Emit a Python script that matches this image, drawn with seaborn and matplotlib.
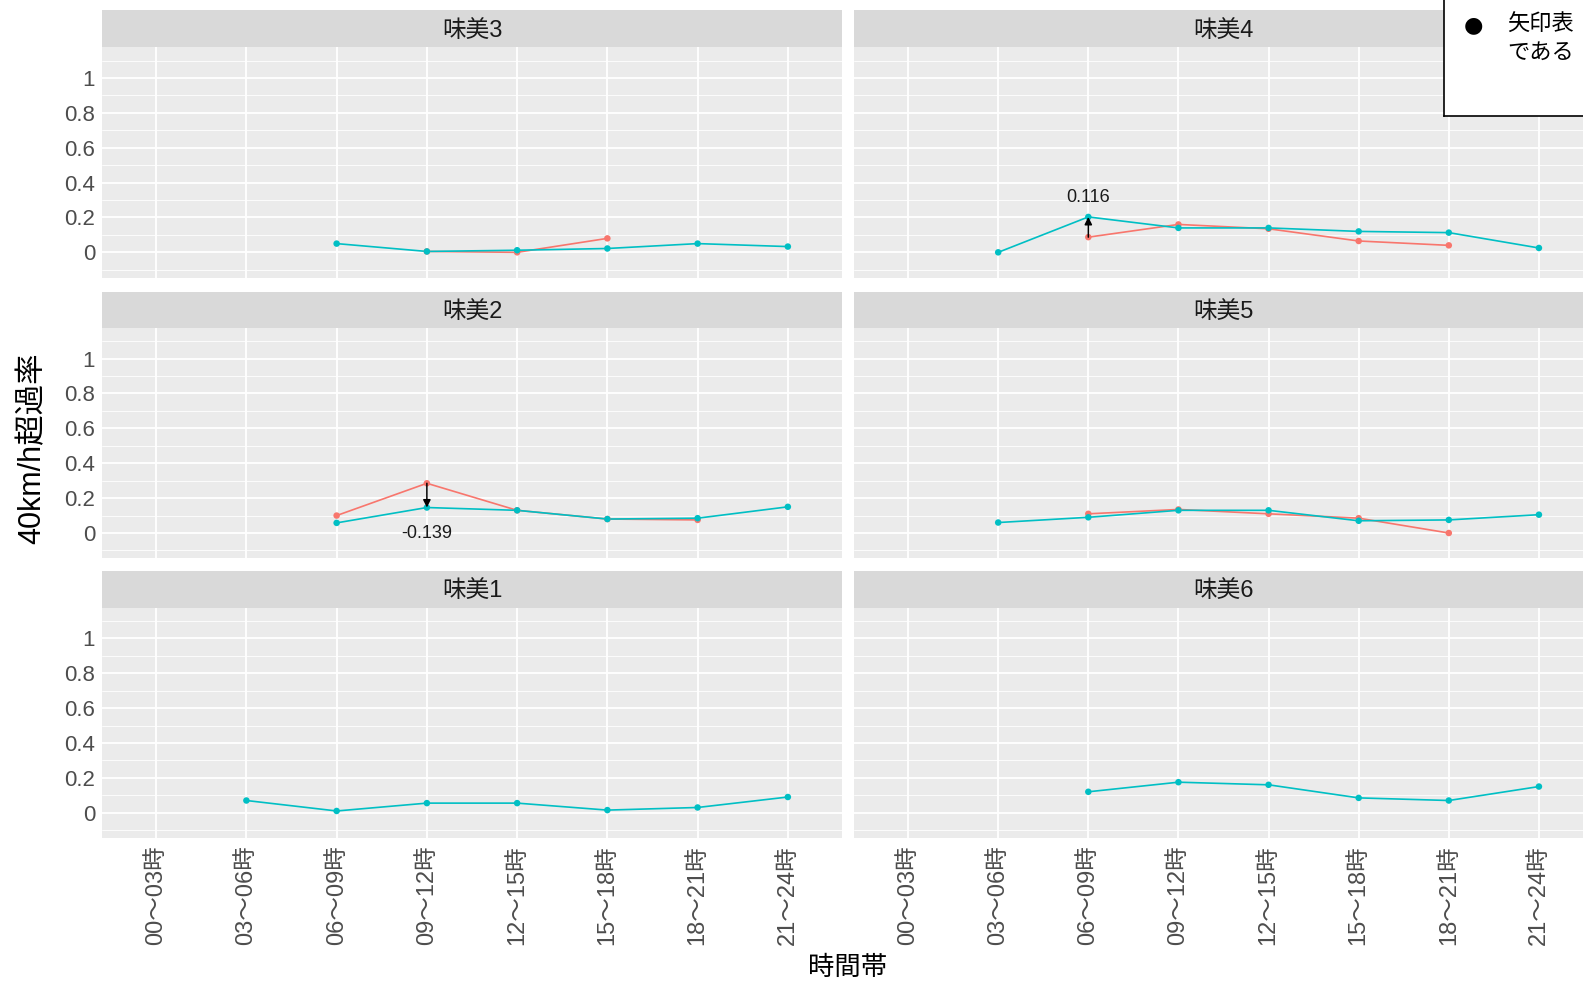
import numpy as np
import pandas as pd
import seaborn as sns
import matplotlib.pyplot as plt
from matplotlib.ticker import MultipleLocator

sns.set_theme(style="darkgrid")
plt.rcParams['font.family'] = ['Liberation Sans', 'Noto Sans CJK JP', 'DejaVu Sans']

# ---------------- data ----------------
slots = ["00～03時", "03～06時", "06～09時", "09～12時",
         "12～15時", "15～18時", "18～21時", "21～24時"]
panels = ["味美3", "味美4", "味美2", "味美5", "味美1", "味美6"]
nan = np.nan

red_3 = [nan, nan, nan, 0.005, 0.0, 0.08, nan, nan]
cyan_3 = [nan, nan, 0.05, 0.005, 0.012, 0.022, 0.05, 0.033]
red_4 = [nan, nan, 0.087, 0.16, 0.135, 0.065, 0.04, nan]
cyan_4 = [nan, 0.0, 0.203, 0.14, 0.14, 0.12, 0.113, 0.025]
red_2 = [nan, nan, 0.10, 0.285, 0.13, 0.08, 0.075, nan]
cyan_2 = [nan, nan, 0.058, 0.146, 0.13, 0.08, 0.085, 0.15]
red_5 = [nan, nan, 0.11, 0.135, 0.11, 0.085, 0.0, nan]
cyan_5 = [nan, 0.06, 0.09, 0.13, 0.13, 0.07, 0.075, 0.105]
red_1 = [nan] * 8
cyan_1 = [nan, 0.07, 0.01, 0.055, 0.055, 0.015, 0.03, 0.09]
red_6 = [nan] * 8
cyan_6 = [nan, nan, 0.12, 0.175, 0.16, 0.085, 0.07, 0.15]

red_all = {"味美3": red_3, "味美4": red_4, "味美2": red_2,
           "味美5": red_5, "味美1": red_1, "味美6": red_6}
cyan_all = {"味美3": cyan_3, "味美4": cyan_4, "味美2": cyan_2,
            "味美5": cyan_5, "味美1": cyan_1, "味美6": cyan_6}

# difference annotations: (panel, slot index, label)
diff_panels = ["味美4", "味美2"]
diff_slots = [2, 3]
diff_labels = ["0.116", "-0.139"]

yticks = [0, 0.2, 0.4, 0.6, 0.8, 1.0]
ytick_labels = ["0", "0.2", "0.4", "0.6", "0.8", "1"]

rows = []
for p in panels:
    for i, s in enumerate(slots):
        rows.append({"panel": p, "pos": i, "slot": s, "series": "前", "rate": red_all[p][i]})
        rows.append({"panel": p, "pos": i, "slot": s, "series": "後", "rate": cyan_all[p][i]})
df = pd.DataFrame(rows).dropna(subset=["rate"])
palette = {"前": "#F8766D", "後": "#00BFC4"}

# ---------------- layout ----------------
W, H = 1583, 983
fig = plt.figure(figsize=(W / 100, H / 100), dpi=100)
fig.patch.set_facecolor("white")

col_x = [(102, 842), (854, 1593)]
row_y = [(10, 47.5, 277.6), (291.8, 328, 558.3), (571.4, 607.8, 838)]

def frac(x0, y0, x1, y1):
    return [x0 / W, 1 - y1 / H, (x1 - x0) / W, (y1 - y0) / H]

for k, p in enumerate(panels):
    r, c = divmod(k, 2)
    x0, x1 = col_x[c]
    ys, yp, yb = row_y[r]
    # strip
    sax = fig.add_axes(frac(x0, ys, x1, yp))
    sax.set_facecolor("#D9D9D9")
    sax.set_xticks([]); sax.set_yticks([])
    for sp in sax.spines.values():
        sp.set_visible(False)
    sax.grid(False)
    sax.text(0.5, 0.45, p, ha="center", va="center", fontsize=17,
             color="#1A1A1A", transform=sax.transAxes)
    # panel
    ax = fig.add_axes(frac(x0, yp, x1, yb))
    ax.set_facecolor("#EBEBEB")
    sub = df[df.panel == p]
    sns.lineplot(data=sub, x="pos", y="rate", hue="series", palette=palette,
                 hue_order=["前", "後"], ax=ax, legend=False, lw=1.2, sort=True)
    sns.scatterplot(data=sub, x="pos", y="rate", hue="series", palette=palette,
                    hue_order=["前", "後"], ax=ax, legend=False, s=22,
                    edgecolor="none", zorder=3)
    ax.set_xlim(-0.6, 7.6)
    ax.set_ylim(-0.145, 1.175)
    ax.set_xticks(range(len(slots)))
    ax.set_yticks(yticks)
    ax.yaxis.set_minor_locator(MultipleLocator(0.1))
    ax.grid(which="major", color="white", lw=1.3)
    ax.grid(which="minor", axis="y", color="white", lw=0.6)
    ax.set_xlabel(""); ax.set_ylabel("")
    for sp in ax.spines.values():
        sp.set_visible(False)
    ax.tick_params(axis="both", which="major", length=3, color="#333333",
                   labelsize=16, labelcolor="#4D4D4D", pad=2)
    ax.tick_params(axis="both", which="minor", length=0)
    if c == 0:
        ax.set_yticklabels(ytick_labels)
    else:
        ax.tick_params(axis="y", length=0, labelleft=False)
    if r == 2:
        ax.set_xticklabels(slots, rotation=90, fontsize=17)
    else:
        ax.tick_params(axis="x", length=0, labelbottom=False)
    if p in diff_panels:
        j = diff_panels.index(p)
        i = diff_slots[j]
        yr = red_all[p][i]
        yc = cyan_all[p][i]
        ax.annotate("", xy=(i, yc), xytext=(i, yr),
                    arrowprops=dict(arrowstyle="-|>", color="black", lw=1.1,
                                    mutation_scale=11, shrinkA=0, shrinkB=0),
                    zorder=5)
        off = 14 if yc > yr else -19
        ax.annotate(diff_labels[j], xy=(i, yc), xytext=(0, off),
                    textcoords="offset points", ha="center", va="center",
                    fontsize=13, color="#1A1A1A")

fig.text(32 / W, 1 - 448 / H, "40km/h超過率", rotation=90, ha="center",
         va="center", fontsize=22, color="black")
fig.text(848 / W, 1 - 968 / H, "時間帯", ha="center", va="center",
         fontsize=19, color="black")

# note box (partly outside the canvas)
bax = fig.add_axes(frac(1444, -20, 1700, 116))
bax.set_xticks([]); bax.set_yticks([])
bax.set_facecolor("white")
bax.grid(False)
for sp in bax.spines.values():
    sp.set_visible(True)
    sp.set_color("black")
    sp.set_linewidth(1.2)
fig.text(1473 / W, 1 - 25 / H, "●", ha="center", va="center", fontsize=16,
         color="black", family=["DejaVu Sans"])
fig.text(1507 / W, 1 - 25 / H, "矢印表", ha="left", va="center",
         fontsize=16, color="black")
fig.text(1507 / W, 1 - 53 / H, "である", ha="left", va="center",
         fontsize=16, color="black")

fig.savefig("out.png", dpi=100)
